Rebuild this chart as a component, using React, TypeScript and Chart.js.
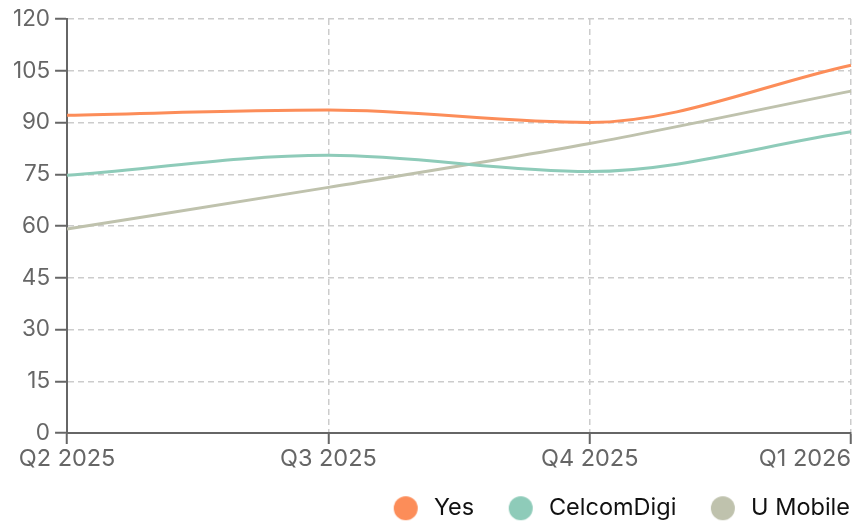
import React, { useEffect, useRef } from "react";
import { Chart, registerables } from "chart.js";

Chart.register(...registerables);

const categories = ["Q2 2025", "Q3 2025", "Q4 2025", "Q1 2026"];
const seriesNames = ["Yes", "CelcomDigi", "U Mobile"];
const yesValues = [92.1, 93.6, 90.0, 106.6];
const celcomDigiValues = [74.7, 80.5, 75.8, 87.3];
const uMobileValues = [59.1, 71.2, 83.9, 99.1];
const seriesColors = ["#fc8d59", "#8ecbb9", "#bfc2ad"];
const yMin = 0;
const yMax = 120;
const yStep = 15;

function makeDot(color: string): HTMLCanvasElement {
  const c = document.createElement("canvas");
  c.width = 48;
  c.height = 26;
  const ctx = c.getContext("2d")!;
  ctx.fillStyle = color;
  ctx.beginPath();
  ctx.arc(34, 13, 12, 0, Math.PI * 2);
  ctx.fill();
  return c;
}

const lastLabelPlugin = {
  id: "lastLabelInner",
  beforeLayout(chart: any) {
    const lg = chart.legend;
    if (lg && !lg.__patched) {
      const orig = lg.fit;
      lg.fit = function () {
        orig.call(this);
        this.height -= 7;
      };
      lg.__patched = true;
    }
  },
  beforeDraw(chart: any) {
    const xs = chart.scales.x;
    if (!xs) return;
    const items = xs.getLabelItems();
    if (!items || !items.length) return;
    const last = items[items.length - 1];
    last.options.textAlign = "right";
  },
};

export default function App() {
  const ref = useRef<HTMLCanvasElement | null>(null);
  useEffect(() => {
    if (!ref.current) return;
    Chart.defaults.font.family = "Inter";
    const values = [yesValues, celcomDigiValues, uMobileValues];
    const chart = new Chart(ref.current, {
      type: "line",
      data: {
        labels: categories,
        datasets: seriesNames.map((name, i) => ({
          label: name,
          data: values[i],
          borderColor: seriesColors[i],
          backgroundColor: seriesColors[i],
          borderWidth: 3,
          pointRadius: 0,
          pointHoverRadius: 0,
          pointStyle: makeDot(seriesColors[i]) as any,
          cubicInterpolationMode: "monotone" as const,
          fill: false,
        })),
      },
      options: {
        animation: false,
        responsive: true,
        maintainAspectRatio: false,
        layout: { padding: 0 },
        plugins: {
          tooltip: { enabled: false },
          legend: {
            position: "bottom",
            align: "end",
            labels: {
              usePointStyle: true,
              pointStyleWidth: 53,
              padding: 10,
              color: "#111",
              font: { size: 23.5, family: "Inter" },
            },
          },
        },
        scales: {
          x: {
            afterFit: (s: any) => {
              s.paddingRight = 9;
              s.height += 13;
            },
            grid: {
              color: "#cccccc",
              lineWidth: 1.5,
              tickColor: "#666",
              tickWidth: 2,
              tickLength: 11,
              tickBorderDash: [],
            },
            border: { display: true, color: "#666", width: 2, dash: [6, 4] },
            ticks: {
              color: "#666",
              font: { size: 23.5, family: "Inter", lineHeight: 1.0 },
              maxRotation: 0,
              autoSkip: false,
              padding: 3,
            },
          },
          y: {
            min: yMin,
            max: yMax,
            afterFit: (s: any) => {
              s.paddingTop = 11;
            },
            grid: {
              color: "#cccccc",
              lineWidth: 1.5,
              tickColor: "#666",
              tickWidth: 2,
              tickLength: 12,
              tickBorderDash: [],
            },
            border: { display: true, color: "#666", width: 2, dash: [6, 4] },
            ticks: {
              stepSize: yStep,
              color: "#666",
              font: { size: 22.5, family: "Inter", lineHeight: 1.0 },
              padding: 5,
            },
          },
        },
      },
      plugins: [lastLabelPlugin],
    });
    return () => chart.destroy();
  }, []);
  return (
    <div style={{ width: "100%", height: 515, position: "relative" }}>
      <canvas ref={ref} />
    </div>
  );
}
